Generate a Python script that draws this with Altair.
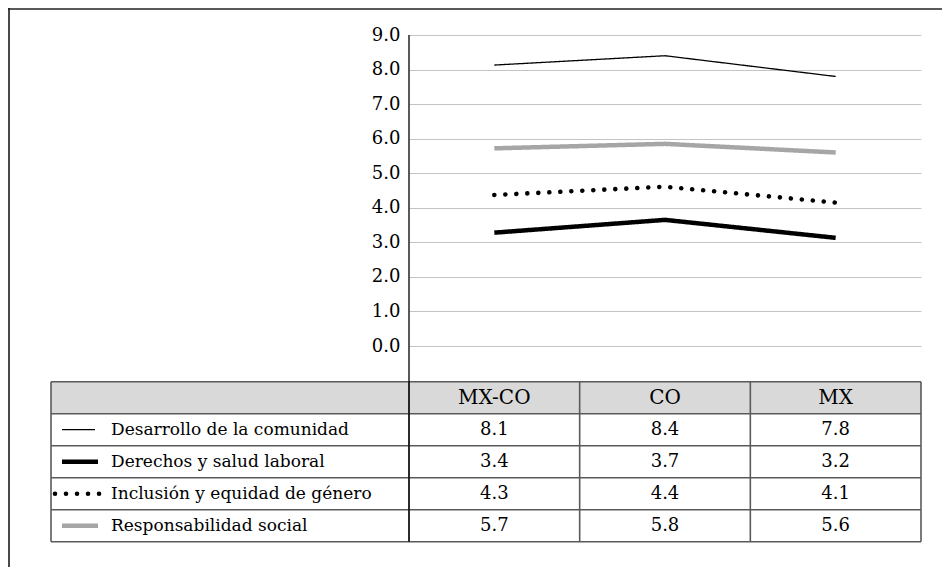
import altair as alt
import pandas as pd

# ---------------- data ----------------
CATS = ["MX-CO", "CO", "MX"]
SERIES = [
    "Desarrollo de la comunidad",
    "Derechos y salud laboral",
    "Inclusión y equidad de género",
    "Responsabilidad social",
]
# values as drawn by the lines
LINE_DESARROLLO = [8.13, 8.40, 7.80]
LINE_DERECHOS = [3.28, 3.65, 3.13]
LINE_INCLUSION = [4.37, 4.61, 4.15]
LINE_RESPONSABILIDAD = [5.72, 5.85, 5.60]
# values printed in the data table
TABLE_DESARROLLO = ["8.1", "8.4", "7.8"]
TABLE_DERECHOS = ["3.4", "3.7", "3.2"]
TABLE_INCLUSION = ["4.3", "4.4", "4.1"]
TABLE_RESPONSABILIDAD = ["5.7", "5.8", "5.6"]
Y_TICKS = [0, 1, 2, 3, 4, 5, 6, 7, 8, 9]

LINES = [LINE_DESARROLLO, LINE_DERECHOS, LINE_INCLUSION, LINE_RESPONSABILIDAD]
TABLES = [TABLE_DESARROLLO, TABLE_DERECHOS, TABLE_INCLUSION, TABLE_RESPONSABILIDAD]

# ---------------- layout / style ----------------
W, H = 512, 311
PAD_L, PAD_T, PAD_R, PAD_B = 401, 27, 21, 221
TABLE_TOP = 346.7
ROW_H = 32
TABLE_BOTTOM = TABLE_TOP + 5 * ROW_H
LABEL_COL = 358
FONT = "DejaVu Serif"
STYLES = [
    dict(color="black", strokeWidth=1.3, strokeDash=[1, 0], strokeCap="butt", sw=(-347, -314)),
    dict(color="black", strokeWidth=4.5, strokeDash=[1, 0], strokeCap="butt", sw=(-347, -311)),
    dict(color="black", strokeWidth=4.6, strokeDash=[0.01, 11], strokeCap="round", sw=(-354, -309)),
    dict(color="#a6a6a6", strokeWidth=4.5, strokeDash=[1, 0], strokeCap="butt", sw=(-347, -311)),
]

line_df = pd.DataFrame(
    [{"series": s, "cat": c, "value": v} for s, vals in zip(SERIES, LINES) for c, v in zip(CATS, vals)]
)
cell_df = pd.DataFrame(
    [{"series": s, "cat": c, "label": t, "r": i + 1.5}
     for i, (s, labs) in enumerate(zip(SERIES, TABLES)) for c, t in zip(CATS, labs)]
)
header_df = pd.DataFrame({"cat": CATS, "r": [0.5] * 3})
rowlab_df = pd.DataFrame({"series": SERIES, "r": [i + 1.5 for i in range(len(SERIES))]})
hline_df = pd.DataFrame({"r": list(range(6))})
vline_df = pd.DataFrame({"cat": CATS, "r0": [0] * 3, "r1": [5] * 3})
hdr_df = pd.DataFrame({"r0": [0], "r1": [1]})

xband = alt.Scale(type="band", domain=CATS, paddingInner=0, paddingOuter=0)
tscale = alt.Scale(domain=[0, 5], range=[TABLE_TOP, TABLE_BOTTOM], nice=False, zero=False)


def xcat(pos):
    return alt.X("cat:N", scale=xband, sort=CATS, axis=None, bandPosition=pos)


layers = []

# outer frame (left and top edges; right/bottom fall outside the picture)
layers.append(
    alt.Chart(hdr_df).mark_rule(color="#4a4a4a", strokeWidth=2).encode(
        x=alt.value(-400), y=alt.value(-27), y2=alt.value(H + PAD_B)
    )
)
layers.append(
    alt.Chart(hdr_df).mark_rule(color="#222", strokeWidth=1.5).encode(
        x=alt.value(-401), x2=alt.value(W + PAD_R), y=alt.value(-26)
    )
)

# header background
layers.append(
    alt.Chart(hdr_df).mark_rect(fill="#d9d9d9").encode(
        x=alt.value(-LABEL_COL), x2=alt.value(W),
        y=alt.Y("r0:Q", scale=tscale, axis=None), y2="r1:Q",
    )
)

# base axis chart with grid
base = alt.Chart(line_df).mark_line(opacity=0).encode(
    x=xcat(0.5),
    y=alt.Y(
        "value:Q",
        scale=alt.Scale(domain=[0, 9], nice=False),
        axis=alt.Axis(
            values=Y_TICKS, format=".1f", title=None, domain=False, ticks=False,
            grid=True, gridColor="#c4c4c4", gridWidth=1.2,
            labelFont=FONT, labelFontSize=18, labelColor="black", labelPadding=9,
        ),
    ),
    detail="series:N",
)
layers.append(base)

# series lines
for s, st in zip(SERIES, STYLES):
    layers.append(
        alt.Chart(line_df).transform_filter(alt.datum.series == s).mark_line(
            color=st["color"], strokeWidth=st["strokeWidth"], strokeDash=st["strokeDash"],
            strokeCap=st["strokeCap"],
        ).encode(
            x=xcat(0.5),
            y=alt.Y("value:Q", scale=alt.Scale(domain=[0, 9], nice=False), axis=None),
        )
    )

# table horizontal lines
layers.append(
    alt.Chart(hline_df).mark_rule(color="#5a5a5a", strokeWidth=1.6).encode(
        x=alt.value(-LABEL_COL), x2=alt.value(W),
        y=alt.Y("r:Q", scale=tscale, axis=None),
    )
)
# table vertical lines
layers.append(
    alt.Chart(vline_df).mark_rule(color="#5a5a5a", strokeWidth=1.6).encode(
        x=xcat(0), y=alt.Y("r0:Q", scale=tscale, axis=None), y2="r1:Q",
    )
)
layers.append(
    alt.Chart(hdr_df).mark_rule(color="#5a5a5a", strokeWidth=1.6).encode(
        x=alt.value(W), y=alt.Y("r0:Q", scale=tscale, axis=None), y2=alt.Y2(datum=5),
    )
)
layers.append(
    alt.Chart(hdr_df).mark_rule(color="#5a5a5a", strokeWidth=1.6).encode(
        x=alt.value(-LABEL_COL), y=alt.Y("r0:Q", scale=tscale, axis=None), y2=alt.Y2(datum=5),
    )
)
# black axis line through plot and table
layers.append(
    alt.Chart(hdr_df).mark_rule(color="black", strokeWidth=1.3).encode(
        x=alt.value(0), y=alt.value(0), y2=alt.value(TABLE_BOTTOM)
    )
)

# header labels
layers.append(
    alt.Chart(header_df).mark_text(font=FONT, fontSize=20, color="black", baseline="middle").encode(
        x=xcat(0.5), y=alt.Y("r:Q", scale=tscale, axis=None), text="cat:N"
    )
)
# cell values
layers.append(
    alt.Chart(cell_df).mark_text(font=FONT, fontSize=18, color="black", baseline="middle").encode(
        x=xcat(0.5), y=alt.Y("r:Q", scale=tscale, axis=None), text="label:N"
    )
)
# row labels
layers.append(
    alt.Chart(rowlab_df).mark_text(font=FONT, fontSize=17, color="black", baseline="middle", align="left").encode(
        x=alt.value(-298), y=alt.Y("r:Q", scale=tscale, axis=None), text="series:N"
    )
)
# legend swatches
for s, st in zip(SERIES, STYLES):
    layers.append(
        alt.Chart(rowlab_df).transform_filter(alt.datum.series == s).mark_rule(
            color=st["color"], strokeWidth=st["strokeWidth"], strokeDash=st["strokeDash"],
            strokeCap=st["strokeCap"],
        ).encode(
            x=alt.value(st["sw"][0]), x2=alt.value(st["sw"][1]),
            y=alt.Y("r:Q", scale=tscale, axis=None),
        )
    )

chart = (
    alt.layer(*layers)
    .resolve_scale(y="independent")
    .properties(
        width=W, height=H,
        autosize=alt.AutoSizeParams(type="none"),
        padding={"left": PAD_L, "top": PAD_T, "right": PAD_R, "bottom": PAD_B},
    )
    .configure_view(stroke=None)
)

chart.save("out.html", embed_options={"renderer": "svg", "actions": False})
